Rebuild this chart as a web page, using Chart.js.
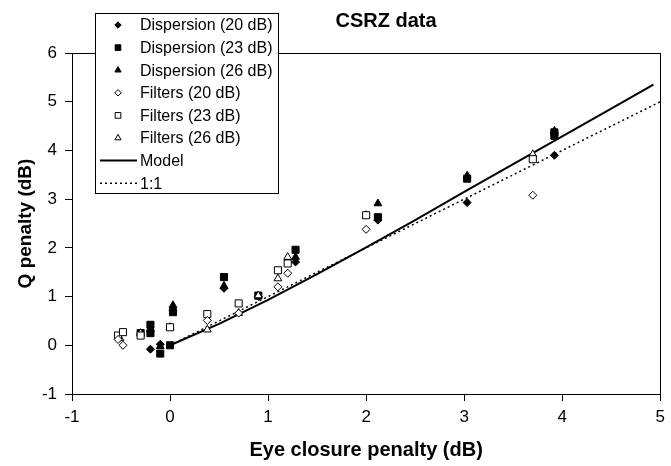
<!DOCTYPE html>
<html>
<head>
<meta charset="utf-8">
<script src="https://cdn.jsdelivr.net/npm/chart.js@4.4.0/dist/chart.umd.min.js"></script>
<style>
  html, body { margin: 0; padding: 0; background: #fff; }
</style>
</head>
<body>
<canvas id="chart" width="671" height="466"></canvas>
<script>
// values: [eye closure penalty, Q penalty]
const disp20 = [[-0.2, -0.08], [-0.1, 0.02], [0.03, 0.72], [0.55, 1.17], [0.9, 1.0], [1.28, 1.71], [2.12, 2.57], [3.03, 2.93], [3.92, 3.9]];
const disp23 = [[-0.2, 0.42], [-0.2, 0.25], [-0.3, 0.25], [-0.1, -0.17], [0.0, 0.0], [0.03, 0.68], [0.55, 1.4], [0.9, 1.02], [1.28, 1.96], [2.12, 2.63], [3.03, 3.42], [3.92, 4.37], [3.92, 4.3]];
const disp26 = [[-0.2, 0.33], [-0.1, -0.02], [0.03, 0.82], [0.55, 1.22], [1.28, 1.81], [2.12, 2.91], [3.03, 3.48], [3.92, 4.4]];
const filt20 = [[-0.48, 0.0], [-0.53, 0.12], [0.38, 0.51], [0.7, 0.66], [1.1, 1.2], [1.2, 1.48], [2.0, 2.38], [3.7, 3.08]];
const filt23 = [[-0.53, 0.2], [-0.48, 0.27], [-0.3, 0.2], [0.0, 0.37], [0.38, 0.64], [0.7, 0.86], [1.1, 1.54], [1.2, 1.68], [2.0, 2.67], [3.7, 3.82]];
const filt26 = [[-0.51, 0.14], [-0.3, 0.25], [0.0, 0.37], [0.38, 0.32], [0.7, 0.66], [0.9, 1.02], [1.1, 1.37], [1.2, 1.81], [2.0, 2.67], [3.7, 3.92]];
const model = [[0, 0], [0.5, 0.44], [1, 0.93], [1.5, 1.46], [2, 2.01], [2.5, 2.57], [3, 3.15], [3.5, 3.72], [4, 4.29], [4.5, 4.86], [4.93, 5.35]];
const oneToOne = [[0, 0], [5, 5]];

const xRange = [-1, 5];
const yRange = [-1, 6];

const FONT = "'Liberation Sans', Arial, sans-serif";
const toXY = arr => arr.map(p => ({ x: p[0], y: p[1] }));

function markerSet(label, data, style, filled, radius, order) {
  return {
    label: label,
    data: toXY(data),
    pointStyle: style,
    pointRadius: radius,
    pointHoverRadius: radius,
    pointBackgroundColor: filled ? '#000' : '#fff',
    pointBorderColor: '#000',
    pointBorderWidth: 1,
    showLine: false,
    order: order
  };
}

const datasets = [
  markerSet('Dispersion (20 dB)', disp20, 'rectRot', true, 4, 2),
  markerSet('Dispersion (23 dB)', disp23, 'rect', true, 5, 2),
  markerSet('Dispersion (26 dB)', disp26, 'triangle', true, 4.5, 2),
  markerSet('Filters (20 dB)', filt20, 'rectRot', false, 4, 1),
  markerSet('Filters (23 dB)', filt23, 'rect', false, 5, 1),
  markerSet('Filters (26 dB)', filt26, 'triangle', false, 4.5, 1),
  {
    label: 'Model', data: toXY(model), showLine: true, borderColor: '#000',
    borderWidth: 2, pointRadius: 0, tension: 0, order: 3
  },
  {
    label: '1:1', data: toXY(oneToOne), showLine: true, borderColor: '#000',
    borderWidth: 1.5, borderDash: [2, 3], pointRadius: 0, order: 4
  }
];

// frame, title and boxed legend drawn by hand
const decor = {
  id: 'decor',
  afterDraw(chart) {
    const ctx = chart.ctx;
    const a = chart.chartArea;
    ctx.save();
    ctx.strokeStyle = '#000';
    ctx.lineWidth = 1;
    ctx.strokeRect(Math.round(a.left) + 0.5, Math.round(a.top) + 0.5, Math.round(a.right - a.left), Math.round(a.bottom - a.top));

    ctx.fillStyle = '#000';
    ctx.font = 'bold 20px ' + FONT;
    ctx.textAlign = 'center';
    ctx.textBaseline = 'middle';
    ctx.fillText('CSRZ data', 386, 21);

    // legend box
    const lx = 95, ly = 13, lw = 183, lh = 180;
    ctx.fillStyle = '#fff';
    ctx.fillRect(lx, ly, lw, lh);
    ctx.strokeRect(lx + 0.5, ly + 0.5, lw, lh);
    ctx.font = '16px ' + FONT;
    ctx.textAlign = 'left';
    chart.data.datasets.forEach((ds, i) => {
      const y = 25 + i * 22.6;
      ctx.fillStyle = '#000';
      ctx.strokeStyle = '#000';
      if (ds.showLine) {
        ctx.beginPath();
        ctx.lineWidth = ds.borderWidth;
        ctx.setLineDash(ds.borderDash || []);
        ctx.moveTo(100, y);
        ctx.lineTo(137, y);
        ctx.stroke();
        ctx.setLineDash([]);
      } else {
        ctx.lineWidth = 1;
        ctx.fillStyle = ds.pointBackgroundColor;
        Chart.helpers.drawPoint(ctx, { pointStyle: ds.pointStyle, radius: ds.pointRadius * 0.8, rotation: 0, borderWidth: 1 }, 118, y);
      }
      ctx.fillStyle = '#000';
      ctx.fillText(ds.label, 140, y + 1);
    });
    ctx.restore();
  }
};

new Chart(document.getElementById('chart'), {
  type: 'scatter',
  data: { datasets: datasets },
  options: {
    responsive: false,
    animation: false,
    layout: { padding: { top: 53, right: 7, left: 0, bottom: 0 } },
    plugins: { legend: { display: false }, tooltip: { enabled: false } },
    scales: {
      x: {
        type: 'linear', min: xRange[0], max: xRange[1],
        afterFit: s => { s.height = 72; },
        ticks: { stepSize: 1, color: '#000', font: { family: FONT, size: 17 }, padding: 6, maxRotation: 0 },
        grid: { drawOnChartArea: false, tickLength: 7, color: '#000' },
        border: { color: '#000', width: 1 },
        title: { display: true, text: 'Eye closure penalty (dB)', color: '#000', font: { family: FONT, size: 20, weight: 'bold' }, padding: { top: 0, bottom: 4 } }
      },
      y: {
        type: 'linear', min: yRange[0], max: yRange[1],
        afterFit: s => { s.width = 72; },
        ticks: { stepSize: 1, color: '#000', font: { family: FONT, size: 17 }, padding: 8 },
        grid: { drawOnChartArea: false, tickLength: 7, color: '#000' },
        border: { color: '#000', width: 1 },
        title: { display: true, text: 'Q penalty (dB)', color: '#000', font: { family: FONT, size: 19, weight: 'bold' }, padding: { top: 14, bottom: 0 } }
      }
    }
  },
  plugins: [decor]
});
</script>
</body>
</html>
